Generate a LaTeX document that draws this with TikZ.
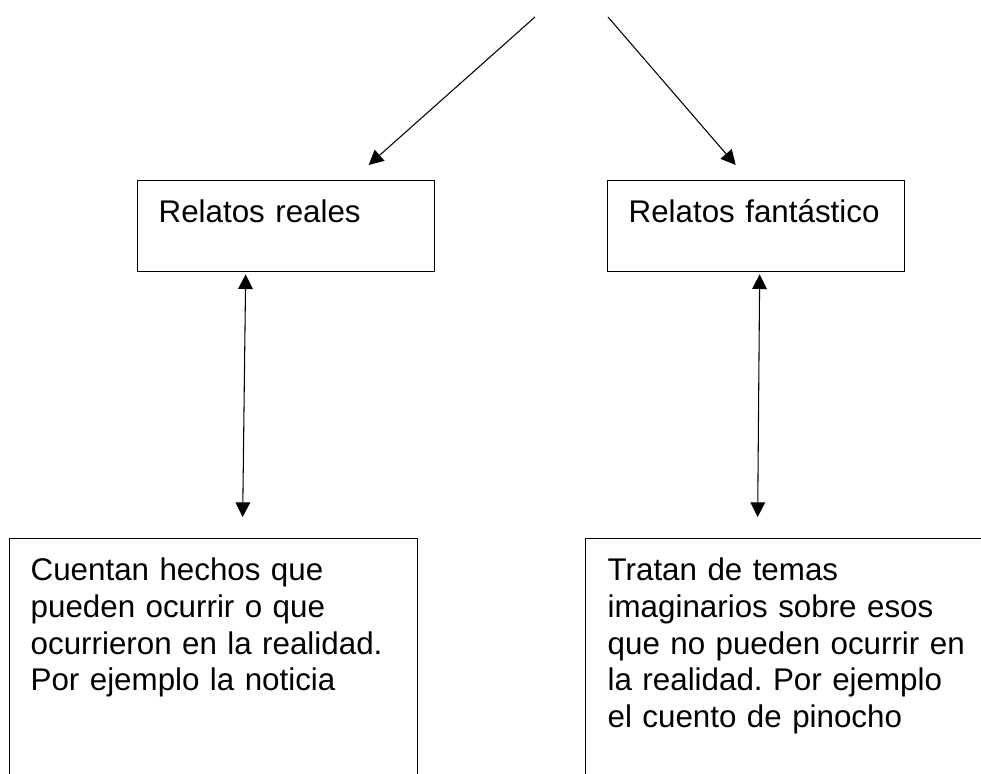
\documentclass[tikz,border=0pt]{standalone}
\usepackage{fontspec}
\setmainfont{Liberation Sans}
\usetikzlibrary{calc}
\usetikzlibrary{arrows.meta}
\frenchspacing

\tikzset{
  relato/.style={draw, line width=1pt, anchor=north west, align=left,
    inner ysep=0pt, inner xsep=15.75pt, text height=31.5pt,
    font=\fontsize{23.5}{27.5}\selectfont},
  flecha/.style={line width=0.8pt, ->},
  doble/.style={line width=0.8pt, <->},
}

\begin{document}
\begin{tikzpicture}[x=0.75pt, y=-0.75pt, >={Triangle[length=11pt,width=11pt]}]
    \useasboundingbox (0,0) rectangle (981,774); % page size
    \clip (0,0) rectangle (981,774);
    \node[relato, text width=191.25pt, text depth=36.75pt] (reales) at (137,180) {Relatos reales};
    \node[relato, text width=191.25pt, text depth=36.75pt] (fantastico) at (607,180) {Relatos fantástico};
    \node[relato, text width=274.5pt, text depth=195pt] (noticia) at (9,538)
        {Cuentan hechos que\\pueden ocurrir o que\\ocurrieron en la realidad.\\Por ejemplo la noticia};
    \node[relato, inner xsep=16.5pt, text width=282pt, text depth=195pt] (pinocho) at (585,538)
        {Tratan de temas\\imaginarios sobre esos\\que no pueden ocurrir en\\la realidad. Por ejemplo\\el cuento de pinocho};
    \coordinate (cimaL) at (535,17); % free ends at the top
    \coordinate (cimaR) at (608,17);
    \draw[flecha] (cimaL) -- ($(reales.north)+(82.5,-15)$);
    \draw[flecha] (cimaR) -- ($(fantastico.north)+(-20.5,-15)$);
    \draw[doble] ($(reales.south)+(-40.5,2)$) -- ($(noticia.north)+(29,-21)$); % box to box
    \draw[doble] ($(fantastico.south)+(3.5,2)$) -- ($(pinocho.north)+(-38,-21)$);
\end{tikzpicture}
\end{document}
